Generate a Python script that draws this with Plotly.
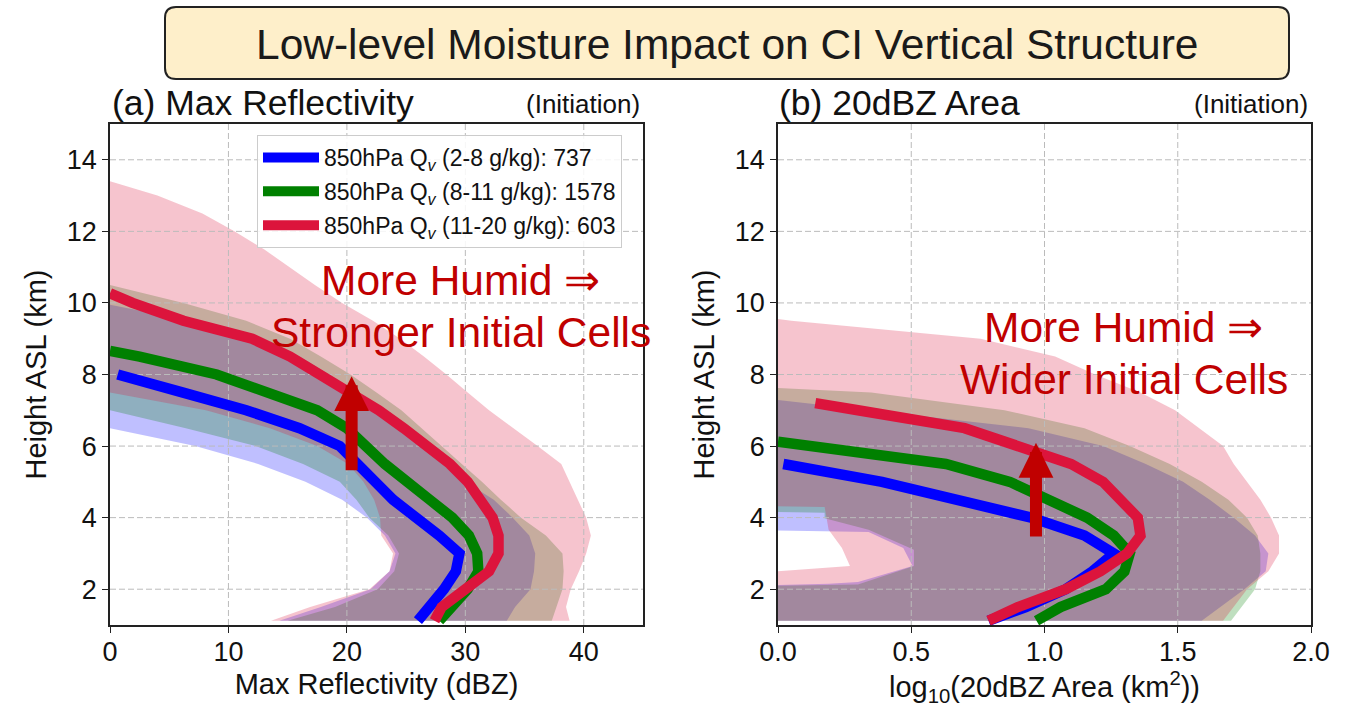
import plotly.graph_objects as go

# ---------------- Panel (a): Max Reflectivity (dBZ) vs height (km) ----------------
# mean profiles
a_blue_h = [1.12, 1.5, 2.0, 2.5, 3.0, 3.5, 4.0, 4.5, 5.0, 5.5, 6.0, 6.5, 7.0, 7.5, 8.0]
a_blue_x = [26.0, 27.0, 28.2, 29.2, 29.5, 27.8, 25.7, 23.9, 22.4, 20.9, 19.4, 16.0, 11.5, 6.1, 0.65]
a_green_h = [1.12, 1.5, 2.0, 2.5, 3.0, 3.5, 4.0, 4.5, 5.0, 5.5, 6.0, 6.5, 7.0, 7.5, 8.0, 8.5, 8.66]
a_green_x = [27.8, 28.9, 30.2, 31.1, 31.0, 30.3, 28.9, 27.0, 25.0, 23.2, 21.6, 20.0, 17.5, 13.5, 9.0, 2.5, 0.0]
a_red_h = [1.12, 1.5, 2.0, 2.5, 3.0, 3.5, 4.0, 4.5, 5.0, 5.5, 6.0, 6.5, 7.0, 7.5, 8.0, 8.5, 9.0, 9.5, 10.0, 10.27]
a_red_x = [27.4, 28.0, 30.0, 32.0, 32.8, 32.8, 32.3, 31.3, 30.2, 28.7, 26.9, 24.8, 22.7, 20.2, 17.9, 15.2, 12.0, 6.2, 1.9, 0.0]

# spread bands (lower / upper bound, clipped at the axis)
a_blue_band_h = [1.12, 1.5, 2.0, 2.5, 3.0, 3.5, 4.0, 4.5, 5.0, 5.5, 6.0, 6.5, 7.0, 7.5, 8.0, 8.5, 9.0, 9.5, 9.95]
a_blue_lo = [14.3, 17.8, 22.0, 23.6, 24.1, 23.2, 21.7, 19.6, 16.5, 12.5, 7.2, 0, 0, 0, 0, 0, 0, 0, 0]
a_blue_hi = [33.5, 34.2, 35.5, 35.8, 35.9, 35.4, 34.0, 32.4, 30.0, 28.2, 26.3, 24.5, 22.7, 20.9, 18.5, 16.0, 12.5, 6.9, 0.0]
a_green_band_h = [1.12, 1.5, 2.0, 2.5, 3.0, 3.5, 4.0, 4.5, 5.0, 5.5, 6.0, 6.5, 7.0, 7.5, 8.0, 8.5, 9.0, 9.5, 10.0, 10.5]
a_green_lo = [15.0, 19.0, 22.6, 24.0, 24.4, 23.5, 21.9, 20.8, 19.4, 16.3, 12.3, 6.4, 0, 0, 0, 0, 0, 0, 0, 0]
a_green_hi = [37.3, 37.7, 38.2, 38.3, 38.2, 36.8, 34.7, 33.0, 31.4, 29.7, 28.0, 26.3, 24.6, 22.5, 20.3, 17.8, 15.2, 11.5, 6.2, 0.0]
a_red_band_h = [1.12, 1.5, 2.0, 2.5, 3.0, 3.5, 4.0, 4.5, 5.0, 5.5, 6.0, 6.5, 7.0, 7.5, 8.0, 8.5, 9.0,
                9.5, 10.0, 10.5, 11.0, 11.5, 12.0, 12.5, 13.0, 13.4]
a_red_lo = [13.6, 16.9, 21.9, 23.6, 23.9, 22.9, 22.8, 22.3, 21.4, 20.1, 17.5, 13.5, 8.1, 0.0,
            0, 0, 0, 0, 0, 0, 0, 0, 0, 0, 0, 0]
a_red_hi = [38.8, 38.5, 38.9, 39.6, 40.2, 40.6, 40.2, 39.5, 38.8, 38.1, 36.1, 34.0, 32.0, 30.2, 28.4,
            26.5, 24.5, 22.2, 19.6, 17.3, 15.2, 13.0, 10.5, 7.8, 4.0, 0.0]

# ---------------- Panel (b): log10(20dBZ area) vs height (km) ----------------
b_blue_h = [1.12, 1.5, 2.0, 2.5, 3.0, 3.5, 4.0, 4.5, 5.0, 5.5]
b_blue_x = [0.79, 0.93, 1.08, 1.18, 1.26, 1.15, 0.95, 0.67, 0.39, 0.02]
b_green_h = [1.12, 1.5, 2.0, 2.5, 3.0, 3.5, 4.0, 4.5, 5.0, 5.5, 6.0, 6.12]
b_green_x = [0.97, 1.06, 1.23, 1.30, 1.32, 1.26, 1.16, 1.02, 0.87, 0.63, 0.15, 0.0]
b_red_h = [1.12, 1.5, 2.0, 2.5, 3.0, 3.5, 4.0, 4.5, 5.0, 5.5, 6.0, 6.5, 7.0, 7.2]
b_red_x = [0.79, 0.90, 1.08, 1.21, 1.31, 1.36, 1.35, 1.29, 1.22, 1.10, 0.91, 0.70, 0.30, 0.14]

b_blue_hi_h = [1.12, 1.5, 2.0, 2.5, 3.0, 3.5, 4.0, 4.5, 5.0, 5.5, 6.0, 6.5, 7.0, 7.29]
b_blue_hi = [1.59, 1.66, 1.75, 1.83, 1.84, 1.79, 1.71, 1.62, 1.52, 1.38, 1.22, 0.94, 0.36, 0.0]
b_blue_lo_h = [1.12, 2.12, 2.15, 2.2, 2.65, 3.15, 3.6, 3.64, 7.29]
b_blue_lo = [0, 0, 0.19, 0.30, 0.505, 0.47, 0.34, 0, 0]
b_green_hi_h = [1.12, 1.5, 2.0, 2.5, 3.0, 3.5, 4.0, 4.5, 5.0, 5.5, 6.0, 6.5, 7.0, 7.5, 7.62]
b_green_hi = [1.70, 1.74, 1.79, 1.81, 1.81, 1.80, 1.76, 1.69, 1.59, 1.47, 1.32, 1.15, 0.85, 0.35, 0.0]
b_green_lo_h = [1.12, 2.10, 2.13, 2.65, 3.1, 3.66, 3.98, 4.14, 4.16, 7.62]
b_green_lo = [0, 0, 0.30, 0.51, 0.51, 0.34, 0.175, 0.175, 0, 0]
b_red_hi_h = [1.12, 1.5, 2.0, 2.5, 3.0, 3.5, 4.0, 4.5, 5.0, 5.5, 6.0, 6.5, 7.0, 7.5, 8.0, 8.5, 9.0, 9.5, 9.55]
b_red_hi = [1.67, 1.71, 1.76, 1.84, 1.88, 1.88, 1.85, 1.81, 1.76, 1.71, 1.67, 1.58, 1.49, 1.36, 1.19, 1.04, 0.76, 0.05, 0.0]
b_red_lo_h = [1.12, 2.5, 2.65, 3.15, 3.66, 4.3, 4.32, 9.55]
b_red_lo = [0, 0, 0.27, 0.24, 0.19, 0.175, 0, 0]

group_names = [
    "850hPa Q<sub><i>v</i></sub> (2-8 g/kg): 737",
    "850hPa Q<sub><i>v</i></sub> (8-11 g/kg): 1578",
    "850hPa Q<sub><i>v</i></sub> (11-20 g/kg): 603",
]
line_colors = ["#0000FF", "#008000", "#DC143C"]
fill_colors = ["rgba(0,0,255,0.25)", "rgba(0,128,0,0.25)", "rgba(220,20,60,0.25)"]

x_range_a = [0, 45]
x_range_b = [0, 2]
y_range = [1, 15]
x_ticks_a = [0, 10, 20, 30, 40]
x_ticks_b = [0.0, 0.5, 1.0, 1.5, 2.0]
y_ticks = [2, 4, 6, 8, 10, 12, 14]

FONT = "Liberation Sans, Arial, Helvetica, sans-serif"
W, H = 1362, 707
GRID = "#BBBBBB"


def px(x):
    return x / W


def py(y):
    return 1 - y / H


fig = go.Figure()


def band(xa, ya, hi_h, hi, lo_h, lo, color):
    fig.add_trace(go.Scatter(
        x=list(hi) + list(lo)[::-1], y=list(hi_h) + list(lo_h)[::-1],
        xaxis=xa, yaxis=ya, mode="lines", fill="toself", fillcolor=color,
        line=dict(width=0, color=color), showlegend=False, hoverinfo="skip"))


def grid(xa, ya, xticks, xr, yticks, yr):
    # dashed grid drawn above the shaded bands but below the mean lines (matplotlib order)
    gx, gy = [], []
    for t in xticks:
        if xr[0] < t < xr[1]:
            gx += [t, t, None]
            gy += [yr[0], yr[1], None]
    for t in yticks:
        if yr[0] < t < yr[1]:
            gx += [xr[0], xr[1], None]
            gy += [t, t, None]
    fig.add_trace(go.Scatter(x=gx, y=gy, xaxis=xa, yaxis=ya, mode="lines",
                             line=dict(color=GRID, width=1, dash="6px,3px"),
                             showlegend=False, hoverinfo="skip"))


# panel (a) bands
band("x", "y", a_blue_band_h, a_blue_hi, a_blue_band_h, a_blue_lo, fill_colors[0])
band("x", "y", a_green_band_h, a_green_hi, a_green_band_h, a_green_lo, fill_colors[1])
band("x", "y", a_red_band_h, a_red_hi, a_red_band_h, a_red_lo, fill_colors[2])
# panel (b) bands
band("x2", "y2", b_blue_hi_h, b_blue_hi, b_blue_lo_h, b_blue_lo, fill_colors[0])
band("x2", "y2", b_green_hi_h, b_green_hi, b_green_lo_h, b_green_lo, fill_colors[1])
band("x2", "y2", b_red_hi_h, b_red_hi, b_red_lo_h, b_red_lo, fill_colors[2])

grid("x", "y", x_ticks_a, x_range_a, y_ticks, y_range)
grid("x2", "y2", x_ticks_b, x_range_b, y_ticks, y_range)

a_lines = [(a_blue_x, a_blue_h), (a_green_x, a_green_h), (a_red_x, a_red_h)]
b_lines = [(b_blue_x, b_blue_h), (b_green_x, b_green_h), (b_red_x, b_red_h)]
for i, (xs, hs) in enumerate(a_lines):
    fig.add_trace(go.Scatter(x=xs, y=hs, xaxis="x", yaxis="y", mode="lines",
                             line=dict(color=line_colors[i], width=10.5),
                             name=group_names[i], legendgroup=f"g{i}", showlegend=True))
for i, (xs, hs) in enumerate(b_lines):
    fig.add_trace(go.Scatter(x=xs, y=hs, xaxis="x2", yaxis="y2", mode="lines",
                             line=dict(color=line_colors[i], width=10.5),
                             name=group_names[i], legendgroup=f"g{i}", showlegend=False))

axis_common = dict(
    showline=True, linecolor="#222222", linewidth=1.5, mirror=True,
    ticks="outside", ticklen=6, tickwidth=1.2, tickcolor="#222222",
    showgrid=False, zeroline=False, automargin=False,
    tickfont=dict(family=FONT, size=27, color="#111111"),
    title_font=dict(family=FONT, size=29, color="#111111"),
)
y_dom = [py(625), py(124)]
fig.update_layout(
    width=W, height=H, margin=dict(l=0, r=0, t=0, b=0, autoexpand=False),
    paper_bgcolor="white", plot_bgcolor="white",
    font=dict(family=FONT, color="#111111"),
    xaxis=dict(domain=[px(110), px(643)], range=x_range_a, tickvals=x_ticks_a, ticklabelstandoff=-4,
               title=dict(text="Max Reflectivity (dBZ)", standoff=8), anchor="y", **axis_common),
    yaxis=dict(domain=y_dom, range=y_range, tickvals=y_ticks,
               title=dict(text="Height ASL (km)", standoff=12), anchor="x", **axis_common),
    xaxis2=dict(domain=[px(778), px(1311)], range=x_range_b, tickvals=x_ticks_b, tickformat=".1f",
                ticklabelstandoff=-4,
                title=dict(text="log<sub>10</sub>(20dBZ Area (km<sup>2</sup>))", standoff=8),
                anchor="y2", **axis_common),
    yaxis2=dict(domain=y_dom, range=y_range, tickvals=y_ticks,
                title=dict(text="Height ASL (km)", standoff=12), anchor="x2", **axis_common),
    showlegend=True,
    legend=dict(x=px(257), y=py(135), xanchor="left", yanchor="top",
                bgcolor="rgba(255,255,255,0.85)", bordercolor="#CCCCCC", borderwidth=1,
                font=dict(family=FONT, size=23, color="#111111"),
                tracegroupgap=1, itemwidth=56),
)

# title box with rounded corners
x0, x1, y0, y1 = px(165), px(1289), py(79), py(7)
rx, ry = 11 / W, 11 / H
path = (f"M {x0+rx},{y0} L {x1-rx},{y0} Q {x1},{y0} {x1},{y0+ry} L {x1},{y1-ry} "
        f"Q {x1},{y1} {x1-rx},{y1} L {x0+rx},{y1} Q {x0},{y1} {x0},{y1-ry} "
        f"L {x0},{y0+ry} Q {x0},{y0} {x0+rx},{y0} Z")
fig.add_shape(type="path", path=path, xref="paper", yref="paper",
              fillcolor="#FEEFCA", line=dict(color="#222222", width=2), layer="above")
fig.add_annotation(x=px(727), y=py(44), xref="paper", yref="paper", showarrow=False,
                   xanchor="center", yanchor="middle",
                   text="Low-level Moisture Impact on CI Vertical Structure",
                   font=dict(family=FONT, size=42.5, color="#1A1A1A"))

# panel titles
for xl, xr, ttl in [(110, 642, "(a) Max Reflectivity"), (777, 1310, "(b) 20dBZ Area")]:
    fig.add_annotation(x=px(xl), y=py(103), xref="paper", yref="paper", showarrow=False,
                       xanchor="left", yanchor="middle", text=ttl,
                       font=dict(family=FONT, size=35.5, color="#111111"))
    fig.add_annotation(x=px(xr), y=py(104), xref="paper", yref="paper", showarrow=False,
                       xanchor="right", yanchor="middle", text="(Initiation)",
                       font=dict(family=FONT, size=26, color="#111111"))

# highlight texts
RED = "#C00000"
for xc, yc, txt in [(460, 280, "More Humid \u21d2"), (461, 332, "Stronger Initial Cells"),
                    (1123, 327, "More Humid \u21d2"), (1124, 379, "Wider Initial Cells")]:
    fig.add_annotation(x=px(xc), y=py(yc), xref="paper", yref="paper", showarrow=False,
                       xanchor="center", yanchor="middle", text=txt,
                       font=dict(family=FONT, size=42.5, color=RED))

# arrows
fig.add_annotation(x=20.4, y=7.95, ax=20.4, ay=5.28, xref="x", yref="y", axref="x", ayref="y",
                   text="", showarrow=True, arrowhead=2, arrowsize=0.58, arrowwidth=12,
                   arrowcolor=RED)
fig.add_annotation(x=0.968, y=6.09, ax=0.968, ay=3.43, xref="x2", yref="y2", axref="x2", ayref="y2",
                   text="", showarrow=True, arrowhead=2, arrowsize=0.58, arrowwidth=12,
                   arrowcolor=RED)

fig.write_html("out.html", config={"displayModeBar": False},
               post_script="document.body.style.margin='0px';")
